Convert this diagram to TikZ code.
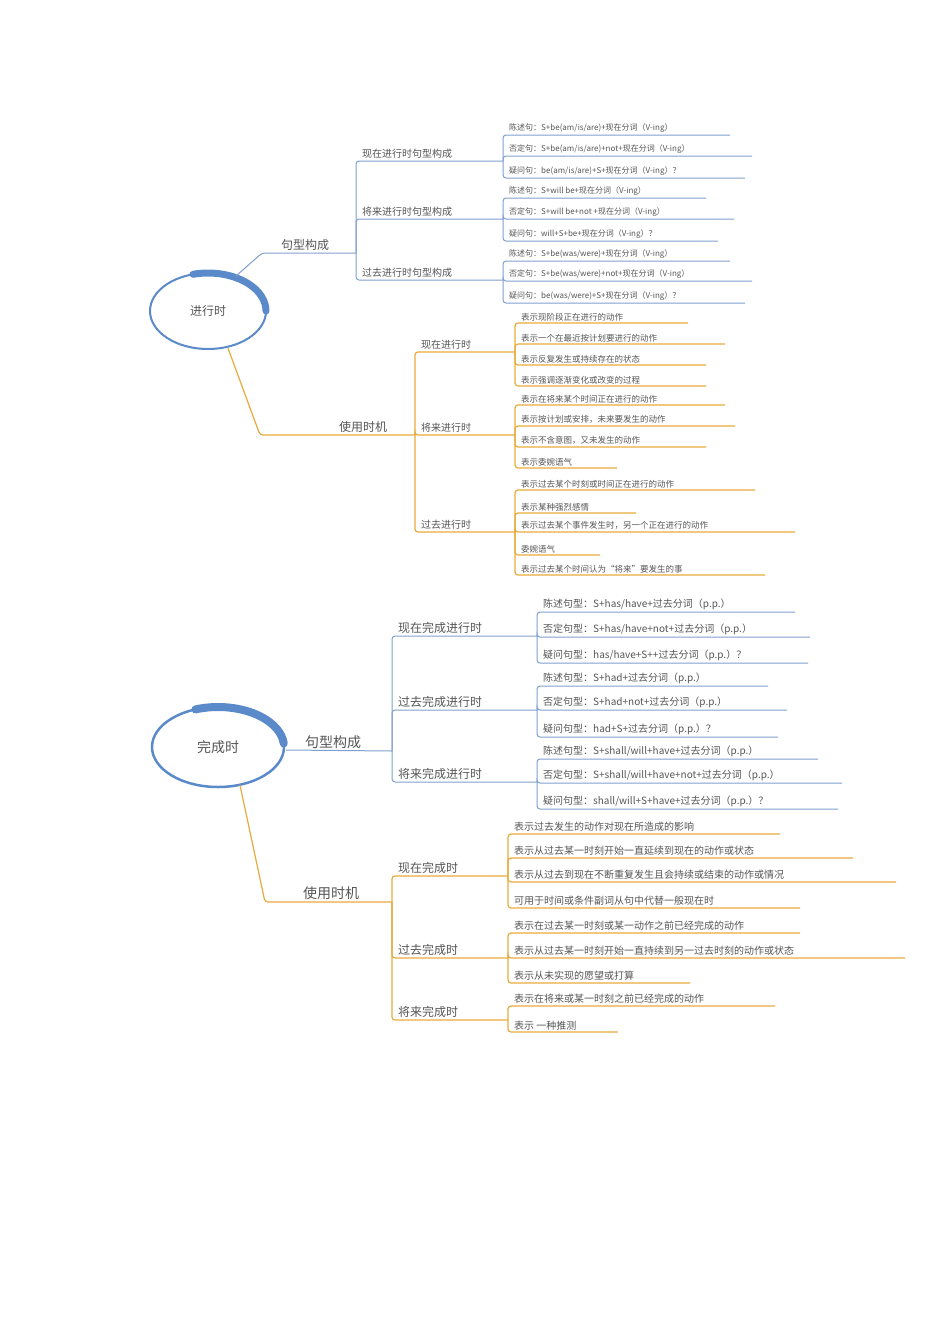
\documentclass[tikz,border=0pt]{standalone}
\usepackage{fontspec}
\setmainfont{Liberation Serif}
\newfontfamily\cjk{Noto Sans CJK SC}
\usetikzlibrary{shapes.geometric}
\definecolor{mapblue}{HTML}{7F9FCF}
\definecolor{mapgold}{HTML}{E8AA3C}
\definecolor{ringblue}{HTML}{5B8ACB}
\definecolor{txtgray}{HTML}{555555}
\tikzset{
  lbl/.style={inner sep=1pt, text=txtgray, font=\cjk\fontsize{#1}{#1}\selectfont},
  lbl/.default=9,
  bline/.style={mapblue, line width=1pt, rounded corners=3pt},
  gline/.style={mapgold, line width=1.2pt, rounded corners=3pt},
}
% #1 style, #2 junction x, #3 parent y, #4 own y, #5 end x, #6 font size, #7 name, #8 text
\newcommand\twig[8]{%
  \draw[#1] (#2,#3) -- (#2,#4) -- (#5,#4);
  \node[lbl=#6, anchor=south west] (#7) at (#2+5,#4-1) {#8};}
\begin{document}
\begin{tikzpicture}[x=1pt,y=-1pt]
  \useasboundingbox (0,0) rectangle (950,1344);

  % ---- 进行时
  \node[ellipse, minimum width=116pt, minimum height=76pt, lbl=12] (jx) at (208,311) {进行时};
  \draw[ringblue, line width=2pt] (jx.center) ellipse[x radius=58, y radius=38];
  \draw[ringblue, line width=7pt, line cap=round] (jx.center) ++(-105:58 and 38) arc[start angle=-105, end angle=0, x radius=58, y radius=38];

  \draw[bline] (236,276) -- (262,253) -- (356,253);
  \node[lbl=12, anchor=south west] (jxgx) at (280,252) {句型构成};
  \twig{bline}{356}{253}{161}{503}{10}{jx1}{现在进行时句型构成}
  \twig{bline}{356}{253}{219}{503}{10}{jx2}{将来进行时句型构成}
  \twig{bline}{356}{253}{280}{503}{10}{jx3}{过去进行时句型构成}
  \foreach \y/\e/\t [count=\i] in {135/730/{陈述句：S+be(am/is/are)+现在分词（V-ing）},
      156/752/{否定句：S+be(am/is/are)+not+现在分词（V-ing）},
      178/745/{疑问句：be(am/is/are)+S+现在分词（V-ing）？}}
    {\twig{bline}{503}{161}{\y}{\e}{8}{jxa\i}{\t}}
  \foreach \y/\e/\t [count=\i] in {198/706/{陈述句：S+will be+现在分词（V-ing）},
      219/734/{否定句：S+will be+not +现在分词（V-ing）},
      241/718/{疑问句：will+S+be+现在分词（V-ing）？}}
    {\twig{bline}{503}{219}{\y}{\e}{8}{jxb\i}{\t}}
  \foreach \y/\e/\t [count=\i] in {261/730/{陈述句：S+be(was/were)+现在分词（V-ing）},
      281/752/{否定句：S+be(was/were)+not+现在分词（V-ing）},
      303/745/{疑问句：be(was/were)+S+现在分词（V-ing）？}}
    {\twig{bline}{503}{280}{\y}{\e}{8}{jxc\i}{\t}}

  \draw[gline] (jx.south) ++(20,-1) -- (260,435) -- (415,435);
  \node[lbl=12, anchor=south west] (jxsy) at (338,434) {使用时机};
  \twig{gline}{415}{435}{352}{515}{10}{jy1}{现在进行时}
  \twig{gline}{415}{435}{435}{515}{10}{jy2}{将来进行时}
  \twig{gline}{415}{435}{532}{515}{10}{jy3}{过去进行时}
  \foreach \y/\e/\t [count=\i] in {323/688/表示现阶段正在进行的动作, 344/725/表示一个在最近按计划要进行的动作,
      365/706/表示反复发生或持续存在的状态, 386/706/表示强调逐渐变化或改变的过程}
    {\twig{gline}{515}{352}{\y}{\e}{8.5}{jya\i}{\t}}
  \foreach \y/\e/\t [count=\i] in {405/725/表示在将来某个时间正在进行的动作, 426/735/表示按计划或安排，未来要发生的动作,
      447/706/表示不含意图，又未发生的动作, 468/617/表示委婉语气}
    {\twig{gline}{515}{435}{\y}{\e}{8.5}{jyb\i}{\t}}
  \foreach \y/\e/\t [count=\i] in {490/755/表示过去某个时刻或时间正在进行的动作, 513/636/表示某种强烈感情,
      532/795/表示过去某个事件发生时，另一个正在进行的动作, 555/600/委婉语气,
      575/765/表示过去某个时间认为“将来”要发生的事}
    {\twig{gline}{515}{532}{\y}{\e}{8.5}{jyc\i}{\t}}

  % ---- 完成时
  \node[ellipse, minimum width=132pt, minimum height=80pt, lbl=14] (wc) at (218,747) {完成时};
  \draw[ringblue, line width=2.5pt] (wc.center) ellipse[x radius=66, y radius=40];
  \draw[ringblue, line width=8pt, line cap=round] (wc.center) ++(-110:66 and 40) arc[start angle=-110, end angle=-5, x radius=66, y radius=40];

  \draw[bline] (wc.east) ++(2,3) -- (392,751);
  \node[lbl=14, anchor=south west] (wcgx) at (304,750) {句型构成};
  \twig{bline}{392}{751}{636}{537}{12}{wc1}{现在完成进行时}
  \twig{bline}{392}{751}{710}{537}{12}{wc2}{过去完成进行时}
  \twig{bline}{392}{751}{782}{537}{12}{wc3}{将来完成进行时}
  \foreach \y/\e/\t [count=\i] in {612/795/{陈述句型：S+has/have+过去分词（p.p.）},
      637/810/{否定句型：S+has/have+not+过去分词（p.p.）},
      663/808/{疑问句型：has/have+S++过去分词（p.p.）？}}
    {\twig{bline}{537}{636}{\y}{\e}{10}{wca\i}{\t}}
  \foreach \y/\e/\t [count=\i] in {686/768/{陈述句型：S+had+过去分词（p.p.）},
      710/787/{否定句型：S+had+not+过去分词（p.p.）},
      737/778/{疑问句型：had+S+过去分词（p.p.）？}}
    {\twig{bline}{537}{710}{\y}{\e}{10}{wcb\i}{\t}}
  \foreach \y/\e/\t [count=\i] in {759/818/{陈述句型：S+shall/will+have+过去分词（p.p.）},
      783/842/{否定句型：S+shall/will+have+not+过去分词（p.p.）},
      809/838/{疑问句型：shall/will+S+have+过去分词（p.p.）？}}
    {\twig{bline}{537}{782}{\y}{\e}{10}{wcc\i}{\t}}

  \draw[gline] (wc.south) ++(22,-2) -- (265,902) -- (392,902);
  \node[lbl=14, anchor=south west] (wcsy) at (302,901) {使用时机};
  \twig{gline}{392}{902}{876}{508}{12}{wd1}{现在完成时}
  \twig{gline}{392}{902}{958}{508}{12}{wd2}{过去完成时}
  \twig{gline}{392}{902}{1020}{508}{12}{wd3}{将来完成时}
  \foreach \y/\e/\t [count=\i] in {834/780/表示过去发生的动作对现在所造成的影响,
      858/853/表示从过去某一时刻开始一直延续到现在的动作或状态,
      882/896/表示从过去到现在不断重复发生且会持续或结束的动作或情况,
      908/800/可用于时间或条件副词从句中代替一般现在时}
    {\twig{gline}{508}{876}{\y}{\e}{10}{wda\i}{\t}}
  \foreach \y/\e/\t [count=\i] in {933/800/表示在过去某一时刻或某一动作之前已经完成的动作,
      958/905/表示从过去某一时刻开始一直持续到另一过去时刻的动作或状态,
      983/690/表示从未实现的愿望或打算}
    {\twig{gline}{508}{958}{\y}{\e}{10}{wdb\i}{\t}}
  \foreach \y/\e/\t [count=\i] in {1006/775/表示在将来或某一时刻之前已经完成的动作, 1032/618/表示 一种推测}
    {\twig{gline}{508}{1020}{\y}{\e}{10}{wdc\i}{\t}}
\end{tikzpicture}
\end{document}
